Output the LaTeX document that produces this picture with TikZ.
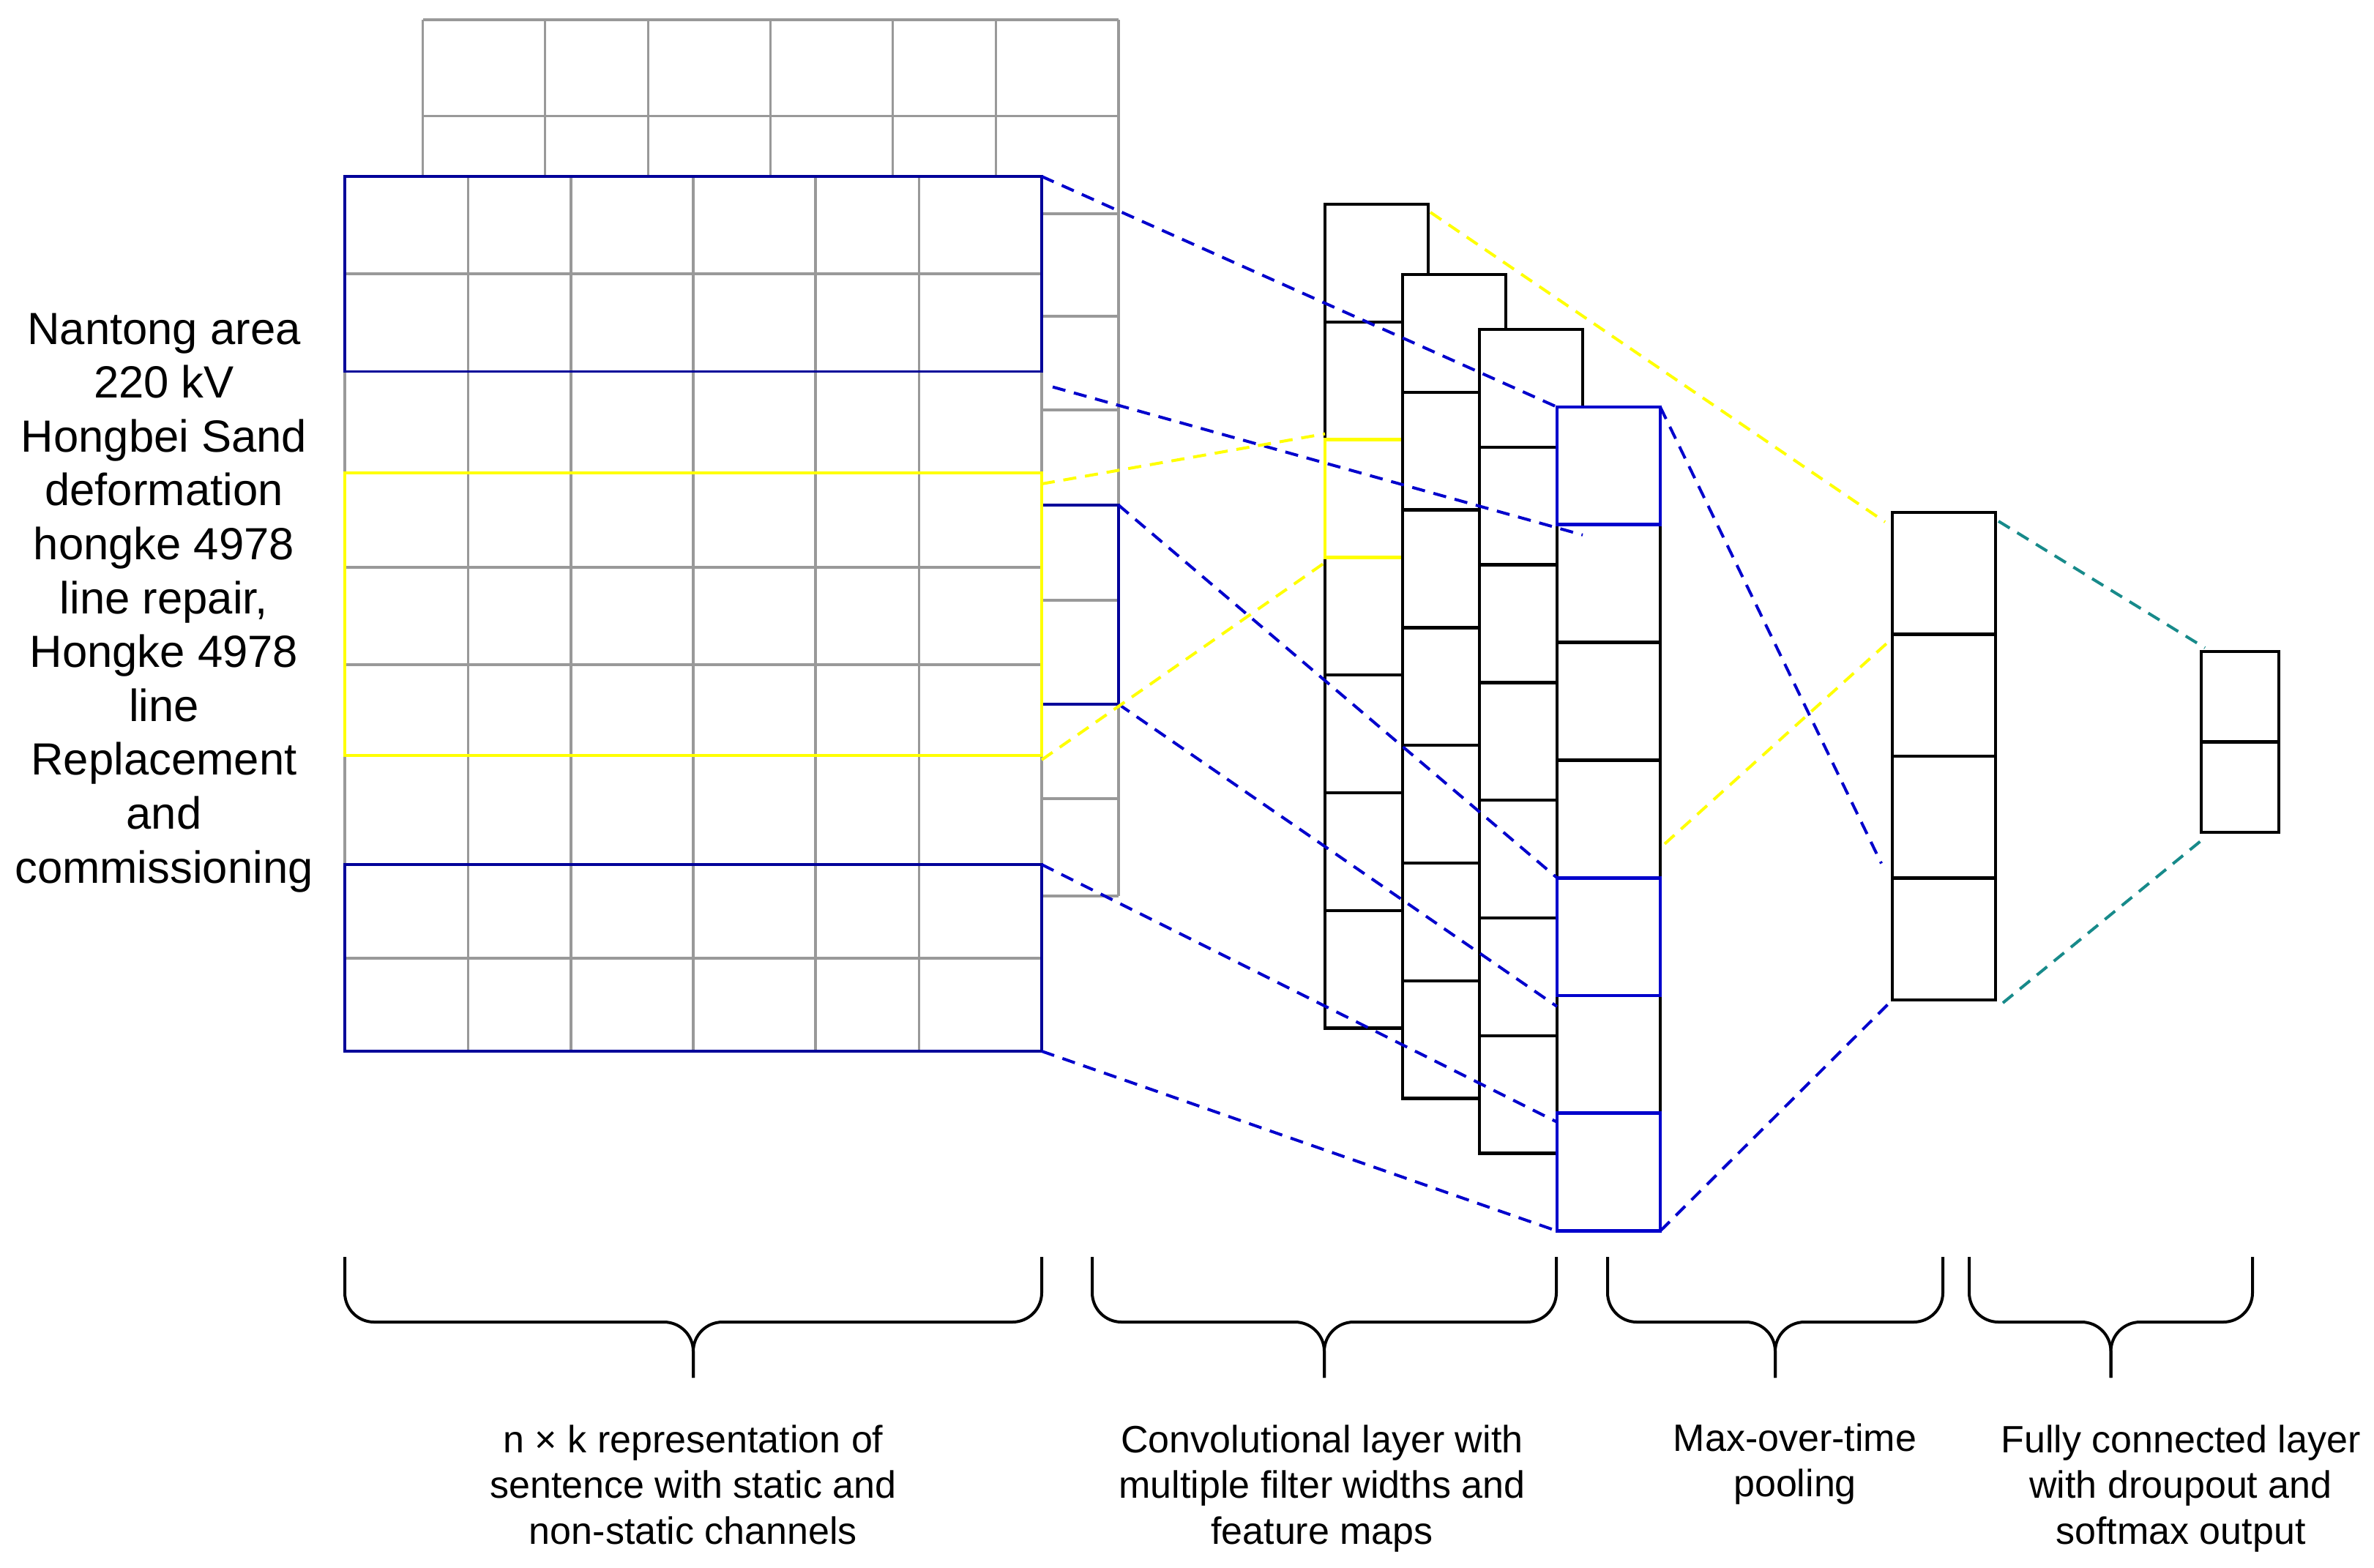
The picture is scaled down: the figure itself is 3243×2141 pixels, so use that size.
\documentclass[tikz,border=0pt]{standalone}
\usepackage{fontspec}
\setmainfont{Liberation Sans}
\usetikzlibrary{positioning,fit}
\definecolor{gridgray}{HTML}{999999}
\definecolor{boxnavy}{HTML}{000099}
\definecolor{mapblue}{HTML}{0000CC}
\definecolor{winyellow}{HTML}{FFFF00}
\definecolor{fcteal}{HTML}{178A8A}
\tikzset{grid line/.style={draw=gridgray,line width=0.8pt},
         win box/.style={rectangle,inner sep=0pt,outer sep=0pt,line width=0.9pt},
         hl line/.style={line width=1.2pt},
         map node/.style={rectangle,draw,fill=white,line width=1.1pt,inner sep=0pt,outer sep=0pt,anchor=north west,minimum width=35.25pt,minimum height=40.2pt},
         pool node/.style={map node,minimum height=41.625pt},
         out node/.style={map node,minimum width=26.5pt,minimum height=30.875pt},
         link/.style={line width=1pt,dash pattern=on 4.5pt off 3pt},
         brace line/.style={draw,line width=1pt,rounded corners=10pt},
         side text/.style={anchor=north,align=center,inner sep=0pt,font=\fontsize{15.4pt}{18.4pt}\selectfont},
         caption/.style={anchor=north,align=center,inner sep=0pt,font=\fontsize{13pt}{15.6pt}\selectfont},
            }

\begin{document}
\begin{tikzpicture}[x=0.25pt,y=-0.25pt]
    \useasboundingbox (0,0) rectangle (3243,2141);

    %% back channel
    \foreach \x in {577.5,744.4,885.2,1052.8,1219.6,1360.5,1528}
        \draw[grid line] (\x,27) -- (\x,1224);
    \foreach \y in {27,158.5,292,432,560,690,820,962,1091,1224}
        \draw[grid line] (577.5,\y) -- (1528,\y);
    \node[win box,draw=boxnavy,fit={(577.5,690) (1528,962)}] (bb) {};

    %% front channel
    \fill[white] (471,241) rectangle (1423,1436);
    \foreach \x in {471,639.5,780,947,1114,1255.6,1423}
        \draw[grid line] (\x,241) -- (\x,1436);
    \foreach \y in {241,374,507.6,646,775,908,1032,1181,1309,1436}
        \draw[grid line] (471,\y) -- (1423,\y);
    \node[win box,draw=boxnavy,fit={(471,241) (1423,507.6)}] (fa) {};
    \node[win box,draw=winyellow,fit={(471,646) (1423,1032)}] (fy) {};
    \node[win box,draw=boxnavy,fit={(471,1181) (1423,1436)}] (fb) {};

    \node[side text] (sent) at (224,427) {Nantong area\\220 kV\\Hongbei Sand\\deformation\\hongke 4978\\line repair,\\Hongke 4978\\line\\Replacement\\and\\commissioning};

    %% feature maps
    \foreach \r in {1,...,7}
        \node[map node] (c1\r) at (1810,{279+(\r-1)*160.8}) {};
    \draw[hl line,winyellow] (c13.north west) rectangle (c13.south east);
    \foreach \c/\x/\y in {2/1916/375,3/2021/450,4/2127/556}
        \foreach \r in {1,...,7}
            \node[map node] (c\c\r) at (\x,{\y+(\r-1)*160.8}) {};
    \foreach \r in {1,5,7}
        \draw[hl line,mapblue] (c4\r.north west) rectangle (c4\r.south east);

    %% pooling and output
    \foreach \r in {1,...,4}
        \node[pool node] (m\r) at (2585,{700+(\r-1)*166.5}) {};
    \node[out node] (o1) at (3007,890) {};
    \node[out node] (o2) [below = 0pt of o1] {};

    \path[draw,link,mapblue]
    (fa.north east) edge (c41.north west)
    ([shift={(15,21)}]fa.south east) edge ([shift={(35,14)}]c41.south west)
    (bb.north east) edge (c45.north west)
    (bb.south east) edge ([shift={(0,15)}]c45.south west)
    (fb.north east) edge ([shift={(0,12)}]c47.north west)
    (fb.south east) edge (c47.south west)
    (c41.north east) edge ([shift={(-15,-20)}]m3.south west)
    (c47.south east) edge (m4.south west);

    \path[draw,link,winyellow]
    ([shift={(0,15)}]fy.north east) edge ([shift={(0,-8)}]c13.north west)
    ([shift={(0,6)}]fy.south east) edge ([shift={(0,7)}]c13.south west)
    ([shift={(3,11)}]c11.north east) edge ([shift={(-10,13)}]m1.north west)
    ([shift={(6,34)}]c44.east) edge ([shift={(-5,10)}]m2.north west);

    \path[draw,link,fcteal]
    ([shift={(4,12)}]m1.north east) edge ([shift={(5,-5)}]o1.north west)
    ([shift={(10,4)}]m4.south east) edge ([shift={(4,8)}]o2.south west);

    %% braces and captions
    \foreach \l/\m/\r in {471/947/1423,1492/1809/2126,2196/2425/2654,2690/2883.5/3077}{
        \draw[brace line] (\l,1717) -- (\l,1806) -- (\m,1806) -- (\m,1882);
        \draw[brace line] (\r,1717) -- (\r,1806) -- (\m,1806) -- (\m,1882);
    }
    \node[caption] (cap1) at (947,1946) {n × k representation of\\sentence with static and\\non-static channels};
    \node[caption] (cap2) at (1806,1946) {Convolutional layer with\\multiple filter widths and\\feature maps};
    \node[caption] (cap3) at (2452,1944) {Max-over-time\\pooling};
    \node[caption] (cap4) at (2979,1946) {Fully connected layer\\with droupout and\\softmax output};
\end{tikzpicture}
\end{document}
